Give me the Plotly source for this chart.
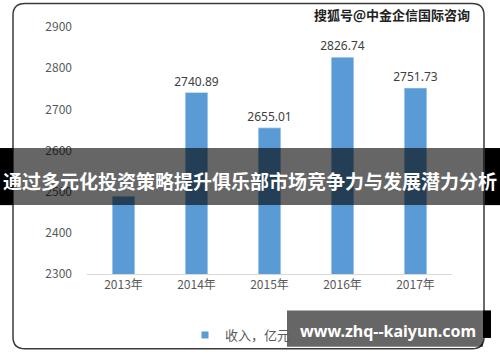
import plotly.graph_objects as go

years = ["2013年", "2014年", "2015年", "2016年", "2017年"]
revenue = [2489.0, 2740.89, 2655.01, 2826.74, 2751.73]
labels = ["", "2740.89", "2655.01", "2826.74", "2751.73"]
y_ticks = [2300, 2400, 2500, 2600, 2700, 2800, 2900]

W, H = 500, 362
L, R, T, B = 87, 48, 27, 84
PW, PH = W - L - R, H - T - B


def px(x):
    return (x - L) / PW


def py(y):
    return (H - B - y) / PH


fig = go.Figure()
fig.add_trace(go.Bar(
    x=years, y=revenue, name="收入，亿元", showlegend=False,
    marker_color="#5B9BD5", width=0.31,
    text=labels, textposition="outside", cliponaxis=False, constraintext="none",
    textfont=dict(color="#404040", size=12, family="Noto Sans"),
))
fig.add_trace(go.Scatter(
    x=[None], y=[None], mode="markers", name="收入，亿元", showlegend=True,
    marker=dict(symbol="square", size=7, color="#5B9BD5"),
))

shapes = []
# rounded frame
x0, x1, y0, y1, r = px(13), px(484), py(3), py(354), 12
rx, ry = r / PW, r / PH
path = (f"M {x0+rx} {y0} L {x1-rx} {y0} Q {x1} {y0} {x1} {y0-ry} "
        f"L {x1} {y1+ry} Q {x1} {y1} {x1-rx} {y1} L {x0+rx} {y1} "
        f"Q {x0} {y1} {x0} {y1+ry} L {x0} {y0-ry} Q {x0} {y0} {x0+rx} {y0} Z")
shapes.append(dict(type="path", xref="paper", yref="paper", path=path,
                   line=dict(color="#3a3a3a", width=1.5), layer="below"))
# title banner
shapes.append(dict(type="rect", xref="paper", yref="paper", x0=px(0), x1=px(13),
                   y0=py(150), y1=py(208), fillcolor="black", line_width=0, layer="above"))
shapes.append(dict(type="rect", xref="paper", yref="paper", x0=px(485), x1=px(500),
                   y0=py(150), y1=py(208), fillcolor="black", line_width=0, layer="above"))
shapes.append(dict(type="rect", xref="paper", yref="paper", x0=px(13), x1=px(485),
                   y0=py(150), y1=py(208), fillcolor="rgba(0,0,0,0.6)", line_width=0, layer="above"))
# bottom url box
shapes.append(dict(type="rect", xref="paper", yref="paper", x0=px(483), x1=px(491),
                   y0=py(315), y1=py(343), fillcolor="black", line_width=0, layer="above"))
shapes.append(dict(type="rect", xref="paper", yref="paper", x0=px(287), x1=px(483),
                   y0=py(315), y1=py(352), fillcolor="rgba(0,0,0,0.6)", line_width=0, layer="above"))

annotations = [
    dict(text="<b>通过多元化投资策略提升俱乐部市场竞争力与发展潜力分析</b>", x=px(250), y=py(183),
         xref="paper", yref="paper", showarrow=False, xanchor="center", yanchor="middle",
         font=dict(color="white", size=19, family="Noto Sans CJK SC")),
    dict(text="<b>www.zhq--kaiyun.com</b>", x=px(388), y=py(336),
         xref="paper", yref="paper", showarrow=False, xanchor="center", yanchor="middle",
         font=dict(color="white", size=16, family="Noto Sans")),
    dict(text="<b>搜狐号@中金企信国际咨询</b>", x=px(472), y=py(14),
         xref="paper", yref="paper", showarrow=False, xanchor="right", yanchor="middle",
         font=dict(color="#222222", size=13, family="Noto Sans CJK SC")),
]

fig.update_layout(
    width=W, height=H,
    margin=dict(l=L, r=R, t=T, b=B),
    paper_bgcolor="white", plot_bgcolor="white",
    showlegend=True,
    legend=dict(orientation="h", x=px(185), y=py(340), xanchor="left", yanchor="middle",
                itemwidth=30,
                font=dict(color="#595959", size=13, family="Noto Sans CJK SC"),
                bgcolor="rgba(0,0,0,0)"),
    xaxis=dict(showgrid=False, showline=True, linecolor="#d9d9d9", linewidth=1,
               ticks="", tickfont=dict(color="#595959", size=12, family="Noto Sans CJK SC"),
               fixedrange=True),
    yaxis=dict(range=[2300, 2900], tickvals=y_ticks, showgrid=False, zeroline=False,
               showline=False, ticks="", ticklabelstandoff=14,
               tickfont=dict(color="#595959", size=12, family="Noto Sans CJK SC")),
    shapes=shapes, annotations=annotations,
    bargap=0.69,
)

fig.write_html("out.html")
